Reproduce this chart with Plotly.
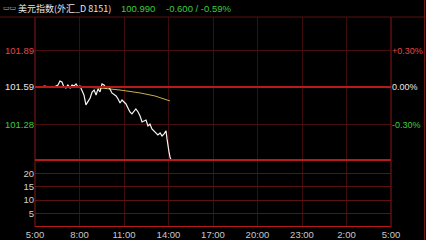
import plotly.graph_objects as go
from datetime import datetime, timedelta

# ---------------- data ----------------
prev_close = 101.59
last_price = 100.990
change = -0.600
change_pct = -0.59
title = "美元指数(外汇_D 8151)"

price_times = ["05:00", "05:20", "05:40", "06:01", "06:21", "06:33", "06:41", "06:49", "06:57",
               "07:05", "07:13", "07:22", "07:30", "07:38", "07:46", "07:54", "08:02", "08:10",
               "08:18", "08:26", "08:34", "08:43", "08:51", "08:59", "09:07", "09:15", "09:23",
               "09:31", "09:39", "09:47", "09:55", "10:03", "10:11", "10:20", "10:28", "10:36",
               "10:44", "10:52", "11:00", "11:08", "11:16", "11:24", "11:32", "11:40", "11:48",
               "11:57", "12:05", "12:13", "12:21", "12:29", "12:37", "12:45", "12:53", "13:01",
               "13:09", "13:17", "13:26", "13:34", "13:42", "13:50", "13:54", "13:58", "14:02",
               "14:06", "14:10"]
price_values = [101.594, 101.590, 101.598, 101.586, 101.594, 101.606, 101.639, 101.631, 101.590,
                101.582, 101.606, 101.582, 101.606, 101.598, 101.615, 101.590, 101.598, 101.565,
                101.524, 101.442, 101.475, 101.499, 101.549, 101.565, 101.524, 101.574, 101.549,
                101.615, 101.606, 101.582, 101.590, 101.574, 101.541, 101.524, 101.516, 101.491,
                101.458, 101.483, 101.466, 101.450, 101.417, 101.384, 101.368, 101.392, 101.409,
                101.384, 101.351, 101.302, 101.310, 101.318, 101.269, 101.285, 101.244, 101.228,
                101.211, 101.195, 101.211, 101.186, 101.203, 101.228, 101.162, 101.088, 101.055,
                101.013, 100.990]

avg_times = ["05:00", "06:41", "08:02", "09:23", "10:44", "12:05", "13:05", "14:06"]
avg_values = [101.594, 101.594, 101.590, 101.582, 101.565, 101.541, 101.516, 101.475]

price_ticks = [101.89, 101.59, 101.28]
pct_labels = ["+0.30%", "0.00%", "-0.30%"]
volume_ticks = [5, 10, 15, 20]

x_start = "2024-01-01 05:00"
x_end = "2024-01-02 05:00"

# --------------- helpers ---------------
day = datetime(2024, 1, 1)


def to_dt(t):
    h, m = map(int, t.split(":"))
    return day + timedelta(hours=h, minutes=m)


px = [to_dt(t) for t in price_times]
ax = [to_dt(t) for t in avg_times]

RED = "#e04848"
GREEN = "#3ccc3c"
WHITE = "#e8e8e8"
GRID = "#4a0e0e"
XGRID = "#3e0c0c"
BRIGHT = "#b81a1a"
FONT = "Noto Sans CJK SC"
NUMF = "Liberation Sans"

fig = go.Figure()
fig.add_trace(go.Scatter(x=ax, y=avg_values, mode="lines",
                         line=dict(color="#c8b048", width=1), xaxis="x", yaxis="y",
                         hoverinfo="skip", showlegend=False))
fig.add_trace(go.Scatter(x=px, y=price_values, mode="lines",
                         line=dict(color="#f4f4f4", width=1.2), xaxis="x", yaxis="y",
                         showlegend=False))
# volume axis (no volume for forex) - invisible anchor trace
fig.add_trace(go.Scatter(x=[px[0]], y=[0], mode="markers", marker=dict(size=0, opacity=0),
                         xaxis="x", yaxis="y2", hoverinfo="skip", showlegend=False))
# right-side percentage axis
fig.add_trace(go.Scatter(x=[px[0]], y=[prev_close], mode="markers",
                         marker=dict(size=0, opacity=0),
                         xaxis="x", yaxis="y3", hoverinfo="skip", showlegend=False))

tick_colors = [RED, WHITE, GREEN]
price_ticktext = [f'<span style="color:{c}">{v:.2f}</span>' for v, c in zip(price_ticks, tick_colors)]
pct_ticktext = [f'<span style="color:{c}">{t}</span>' for t, c in zip(pct_labels, tick_colors)]

x0p, x1p = 35 / 426, 391 / 426
price_dom = [(240 - 160) / 240, (240 - 17) / 240]
vol_dom = [(240 - 227) / 240, (240 - 160) / 240]
price_range = [100.988, 102.167]

fig.update_layout(
    width=426, height=240,
    margin=dict(l=0, r=0, t=0, b=0),
    paper_bgcolor="#000000", plot_bgcolor="#000000",
    font=dict(family=FONT, size=9, color=WHITE),
    xaxis=dict(domain=[x0p, x1p], anchor="y2", type="date", automargin=False,
               range=[x_start, x_end], tick0=x_start, dtick=3 * 3600 * 1000,
               tickformat="%-H:%M", showgrid=True, gridcolor=XGRID, gridwidth=1,
               zeroline=False, showline=False, ticks="",
               tickfont=dict(color="#c8c8c8", size=9.5, family=NUMF)),
    yaxis=dict(domain=price_dom, range=price_range, anchor="x", automargin=False,
               tickvals=price_ticks, ticktext=price_ticktext,
               showgrid=True, gridcolor=GRID, zeroline=False, showline=False, ticks="",
               tickfont=dict(size=9.5, family=NUMF)),
    yaxis2=dict(domain=vol_dom, range=[0, 24.9], anchor="x", automargin=False,
                tickvals=volume_ticks, showgrid=True, gridcolor="#5a1212",
                zeroline=False, showline=False, ticks="",
                tickfont=dict(size=9.5, family=NUMF, color="#d0d0d0")),
    yaxis3=dict(overlaying="y", side="right", anchor="x", range=price_range, automargin=False,
                tickvals=price_ticks, ticktext=pct_ticktext, showgrid=False,
                zeroline=False, showline=False, ticks="",
                tickfont=dict(size=9, family=NUMF)),
)

shapes = [
    # previous close line
    dict(type="line", xref="x domain", yref="y", x0=0, x1=1, y0=prev_close, y1=prev_close,
         line=dict(color=BRIGHT, width=2)),
    # divider between price and volume
    dict(type="line", xref="x domain", yref="y2 domain", x0=0, x1=1, y0=1, y1=1,
         line=dict(color=BRIGHT, width=2)),
    # bottom line
    dict(type="line", xref="x domain", yref="y2", x0=0, x1=1, y0=0, y1=0,
         line=dict(color=BRIGHT, width=2)),
    # left and right borders
    dict(type="line", xref="paper", yref="paper", x0=x0p, x1=x0p, y0=vol_dom[0], y1=price_dom[1],
         line=dict(color="#8a1818", width=1)),
    dict(type="line", xref="paper", yref="paper", x0=x1p, x1=x1p, y0=vol_dom[0], y1=price_dom[1],
         line=dict(color="#8a1818", width=1)),
    # top border across the header
    dict(type="line", xref="paper", yref="paper", x0=0, x1=1, y0=price_dom[1], y1=price_dom[1],
         line=dict(color="#5a1010", width=1)),
    # right edge line
    dict(type="line", xref="paper", yref="paper", x0=424.5 / 426, x1=424.5 / 426, y0=0, y1=1,
         line=dict(color="#6a1414", width=1)),
]
fig.update_layout(shapes=shapes)

annotations = [
    dict(x=1 / 426, y=1 - 8.5 / 240, xref="paper", yref="paper", xanchor="left", yanchor="middle",
         text="▭▭", showarrow=False, font=dict(size=7, color="#c0c0c0", family="DejaVu Sans")),
    dict(x=16 / 426, y=1 - 8.5 / 240, xref="paper", yref="paper", xanchor="left", yanchor="middle",
         text=title, showarrow=False, font=dict(size=9, color=WHITE, family=FONT)),
    dict(x=119 / 426, y=1 - 8.5 / 240, xref="paper", yref="paper", xanchor="left", yanchor="middle",
         text=f"{last_price:.3f}", showarrow=False, font=dict(size=9.5, color=GREEN, family=NUMF)),
    dict(x=164 / 426, y=1 - 8.5 / 240, xref="paper", yref="paper", xanchor="left", yanchor="middle",
         text=f"{change:.3f} / {change_pct:.2f}%", showarrow=False,
         font=dict(size=9.5, color=GREEN, family=NUMF)),
]
fig.update_layout(annotations=annotations)

fig.write_html("out.html")
